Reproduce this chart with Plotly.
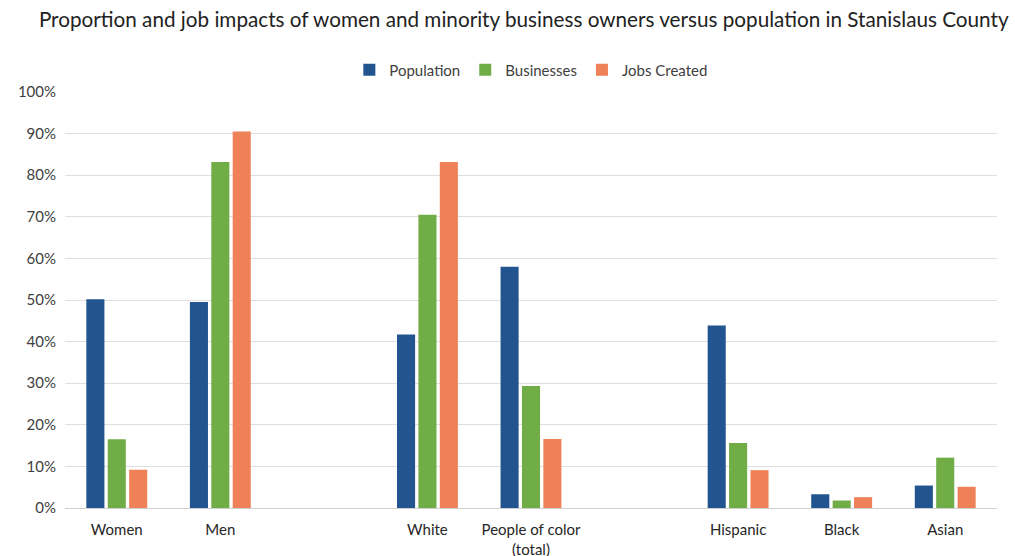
import plotly.graph_objects as go

categories = ["Women", "Men", " ", "White", "People of color<br>(total)", "  ", "Hispanic", "Black", "Asian"]
population = [0.502, 0.495, None, 0.417, 0.580, None, 0.439, 0.033, 0.054]
businesses = [0.165, 0.832, None, 0.705, 0.293, None, 0.156, 0.018, 0.121]
jobs_created = [0.092, 0.905, None, 0.832, 0.166, None, 0.091, 0.026, 0.051]

series_names = ["Population", "Businesses", "Jobs Created"]
colors = ["#22558F", "#71AD47", "#EE8157"]

fig = go.Figure()
for name, vals, col in zip(series_names, [population, businesses, jobs_created], colors):
    fig.add_trace(go.Bar(x=categories, y=vals, name=name, marker=dict(color=col, line=dict(width=0))))

font_family = "Lato, 'Open Sans', sans-serif"
fig.update_layout(
    width=1015, height=556,
    margin=dict(l=65, r=18, t=92, b=48, autoexpand=False),
    paper_bgcolor="white", plot_bgcolor="white",
    barmode="group", bargap=0.38, bargroupgap=0.155,
    font=dict(family=font_family, color="#404040"),
    title=dict(text="Proportion and job impacts of women and minority business owners versus population in Stanislaus County",
               x=0.516, xanchor="center", y=1 - 20 / 556, yanchor="middle", yref="container",
               font=dict(size=20.7, color="#222222", family=font_family)),
    legend=dict(orientation="h", xref="container", x=0.523, xanchor="center", yref="container",
                y=1 - 70 / 556, yanchor="middle",
                font=dict(size=15, color="#404040"), traceorder="normal",
                itemsizing="constant", itemwidth=30),
    xaxis=dict(type="category", tickfont=dict(size=15, color="#262626"), showgrid=False,
               showline=False, ticks="", ticklabelstandoff=11),
    yaxis=dict(range=[0, 1], dtick=0.1, tickformat=".0%", showgrid=True, gridcolor="#DEDEDE",
               gridwidth=1, zeroline=True, zerolinecolor="#D0D0D0", zerolinewidth=1,
               tickfont=dict(size=15, color="#404040"), ticks="", ticklabelstandoff=8),
)

fig.write_html("out.html", config={"displayModeBar": False},
               post_script="document.body.style.margin='0';document.body.style.overflow='hidden';")
